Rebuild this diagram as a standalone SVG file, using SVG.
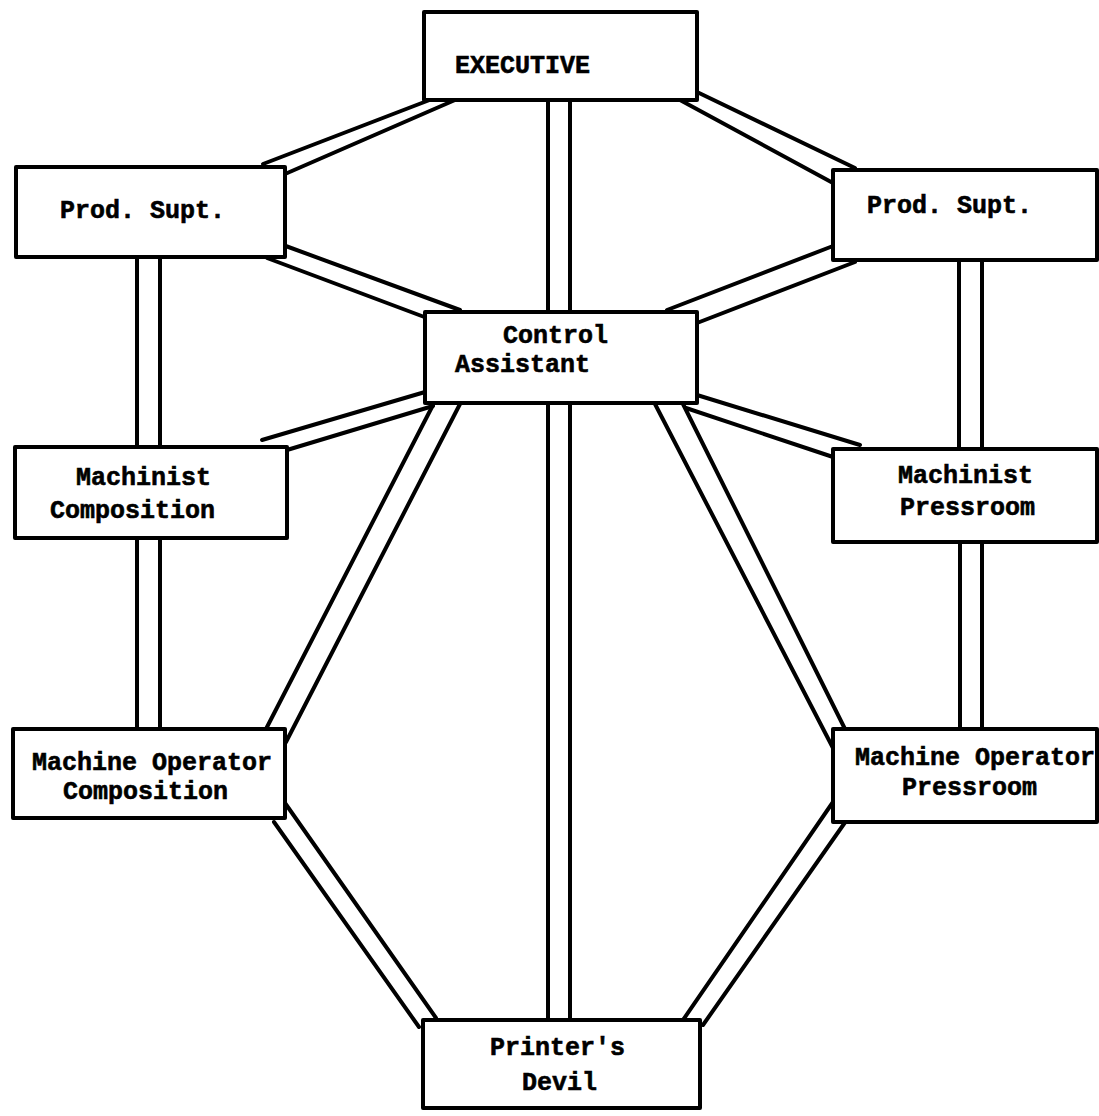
<svg xmlns="http://www.w3.org/2000/svg" width="1099" height="1116" viewBox="0 0 1099 1116">
<style>
.bg{fill:#ffffff}
.box{fill:#ffffff;stroke:#000000;stroke-width:4;stroke-linejoin:round}
.rail{stroke:#000000;stroke-width:4;stroke-linecap:round;fill:none}
.lbl{font-family:"Liberation Mono","DejaVu Sans Mono",monospace;font-weight:bold;font-size:25px;fill:#000000;stroke:#000000;stroke-width:0.6}
</style>
<rect class="bg" x="0" y="0" width="1099" height="1116"/>
<g id="connectors">
  <g id="c-exec-ctrl"><line class="rail" x1="548" y1="100" x2="548" y2="312"/><line class="rail" x1="570" y1="100" x2="570" y2="312"/></g>
  <g id="c-ctrl-devil"><line class="rail" x1="548" y1="403" x2="548" y2="1020"/><line class="rail" x1="570" y1="403" x2="570" y2="1020"/></g>
  <g id="c-exec-psl"><line class="rail" x1="263" y1="164" x2="440" y2="96"/><line class="rail" x1="285" y1="174" x2="455" y2="100"/></g>
  <g id="c-exec-psr"><line class="rail" x1="697" y1="92" x2="855" y2="168"/><line class="rail" x1="680" y1="100" x2="833" y2="183"/></g>
  <g id="c-psl-ctrl"><line class="rail" x1="283" y1="245" x2="460" y2="310"/><line class="rail" x1="267" y1="258" x2="427" y2="318"/></g>
  <g id="c-psr-ctrl"><line class="rail" x1="667" y1="310" x2="833" y2="246"/><line class="rail" x1="697" y1="323" x2="855" y2="262"/></g>
  <g id="c-ctrl-mc"><line class="rail" x1="262" y1="440" x2="425" y2="392"/><line class="rail" x1="287" y1="450" x2="433" y2="406"/></g>
  <g id="c-ctrl-mp"><line class="rail" x1="697" y1="395" x2="860" y2="445"/><line class="rail" x1="686" y1="408" x2="833" y2="457"/></g>
  <g id="c-ctrl-mop"><line class="rail" x1="655" y1="404" x2="833" y2="748"/><line class="rail" x1="683" y1="404" x2="845" y2="729"/></g>
  <g id="c-ctrl-moc"><line class="rail" x1="433" y1="405" x2="266" y2="729"/><line class="rail" x1="460" y1="404" x2="286" y2="742"/></g>
  <g id="c-moc-devil"><line class="rail" x1="285" y1="803" x2="436" y2="1018"/><line class="rail" x1="274" y1="822" x2="419" y2="1027"/></g>
  <g id="c-mop-devil"><line class="rail" x1="833" y1="802" x2="683" y2="1020"/><line class="rail" x1="846" y1="821" x2="703" y2="1025"/></g>
  <g id="c-psl-mc"><line class="rail" x1="137" y1="257" x2="137" y2="447"/><line class="rail" x1="160" y1="257" x2="160" y2="447"/></g>
  <g id="c-mc-moc"><line class="rail" x1="137" y1="538" x2="137" y2="729"/><line class="rail" x1="160" y1="538" x2="160" y2="729"/></g>
  <g id="c-psr-mp"><line class="rail" x1="959" y1="260" x2="959" y2="449"/><line class="rail" x1="982" y1="260" x2="982" y2="449"/></g>
  <g id="c-mp-mop"><line class="rail" x1="960" y1="542" x2="960" y2="729"/><line class="rail" x1="982" y1="542" x2="982" y2="729"/></g>
</g>
<g id="executive"><rect class="box" x="424" y="12" width="273" height="88"/><text class="lbl" x="455" y="73">EXECUTIVE</text></g>
<g id="prod-supt-left"><rect class="box" x="16" y="167" width="269" height="90"/><text class="lbl" x="60" y="218">Prod. Supt.</text></g>
<g id="prod-supt-right"><rect class="box" x="833" y="170" width="264" height="90"/><text class="lbl" x="867" y="213">Prod. Supt.</text></g>
<g id="control-assistant"><rect class="box" x="425" y="312" width="272" height="91"/><text class="lbl" x="503" y="343">Control</text><text class="lbl" x="455" y="372">Assistant</text></g>
<g id="machinist-composition"><rect class="box" x="15" y="447" width="272" height="91"/><text class="lbl" x="76" y="485">Machinist</text><text class="lbl" x="50" y="518">Composition</text></g>
<g id="machinist-pressroom"><rect class="box" x="833" y="449" width="264" height="93"/><text class="lbl" x="898" y="483">Machinist</text><text class="lbl" x="900" y="515">Pressroom</text></g>
<g id="machine-operator-composition"><rect class="box" x="13" y="729" width="272" height="89"/><text class="lbl" x="32" y="770">Machine Operator</text><text class="lbl" x="63" y="799">Composition</text></g>
<g id="machine-operator-pressroom"><rect class="box" x="833" y="729" width="264" height="93"/><text class="lbl" x="855" y="765">Machine Operator</text><text class="lbl" x="902" y="795">Pressroom</text></g>
<g id="printers-devil"><rect class="box" x="423" y="1020" width="277" height="88"/><text class="lbl" x="490" y="1055">Printer's</text><text class="lbl" x="522" y="1090">Devil</text></g>
</svg>
